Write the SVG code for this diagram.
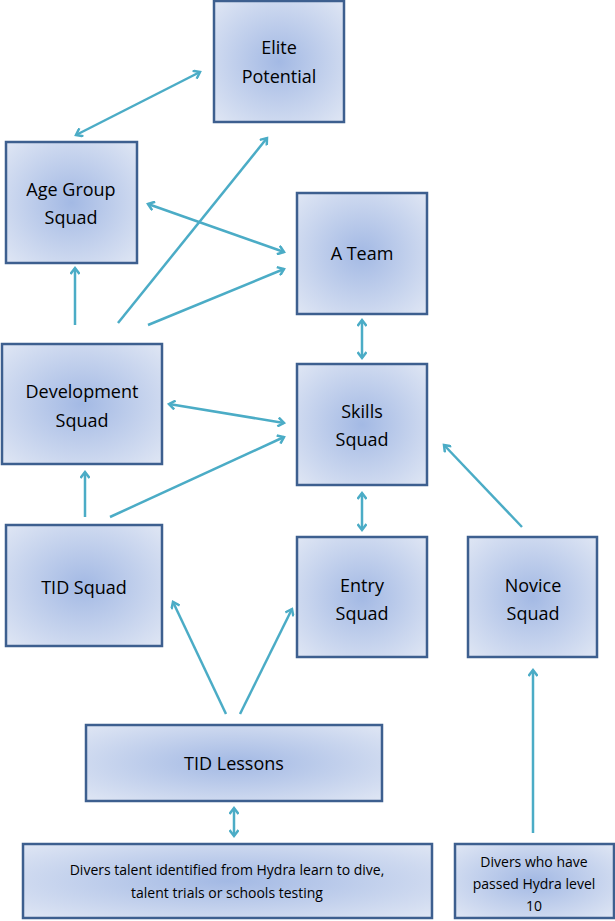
<svg xmlns="http://www.w3.org/2000/svg" width="615" height="921" viewBox="0 0 615 921">
<defs>
<radialGradient id="g" cx="50%" cy="50%" r="70%">
<stop offset="0" stop-color="#a3b9e4"/><stop offset="1" stop-color="#dfe6f4"/>
</radialGradient>
<marker id="a" markerWidth="10" markerHeight="10" refX="7" refY="5" orient="auto-start-reverse" markerUnits="userSpaceOnUse">
<polyline points="1,0.5 7,5 1,9.5" fill="none" stroke="#4bacc6" stroke-width="2.5"/>
</marker>
<style>
.b{fill:url(#g);stroke:#3d5f8f;stroke-width:2.5}
text{font-family:"Open Sans","Liberation Sans",sans-serif;font-size:18px;fill:#000;text-anchor:middle}
.s{font-size:14px}
.c line{stroke:#4bacc6;stroke-width:2.5;marker-end:url(#a)}
.c line.d{marker-start:url(#a)}
</style>
</defs>
<g id="elite"><rect class="b" x="214" y="1" width="130" height="121"/><text x="279" y="54">Elite</text><text x="279" y="83">Potential</text></g>
<g id="agegroup"><rect class="b" x="6" y="142" width="131" height="121"/><text x="71" y="196">Age Group</text><text x="71" y="224">Squad</text></g>
<g id="ateam"><rect class="b" x="297" y="193" width="130" height="121"/><text x="362" y="260">A Team</text></g>
<g id="dev"><rect class="b" x="2" y="344" width="160" height="120"/><text x="82" y="398">Development</text><text x="82" y="427">Squad</text></g>
<g id="skills"><rect class="b" x="297" y="364" width="130" height="121"/><text x="362" y="418">Skills</text><text x="362" y="446">Squad</text></g>
<g id="tid"><rect class="b" x="6" y="525" width="156" height="121"/><text x="84" y="594">TID Squad</text></g>
<g id="entry"><rect class="b" x="297" y="537" width="130" height="120"/><text x="362" y="592">Entry</text><text x="362" y="620">Squad</text></g>
<g id="novice"><rect class="b" x="468" y="537" width="129" height="120"/><text x="533" y="592">Novice</text><text x="533" y="620">Squad</text></g>
<g id="lessons"><rect class="b" x="86" y="725" width="296" height="76"/><text x="234" y="770">TID Lessons</text></g>
<g id="divers"><rect class="b" x="23" y="844" width="409" height="74"/><text class="s" x="227" y="875">Divers talent identified from Hydra learn to dive,</text><text class="s" x="227" y="898">talent trials or schools testing</text></g>
<g id="hydra"><rect class="b" x="455" y="844" width="159" height="74"/><text class="s" x="534" y="867">Divers who have</text><text class="s" x="534" y="889">passed Hydra level</text><text class="s" x="534" y="911">10</text></g>
<g class="c" id="connectors">
<line class="d" x1="200" y1="72" x2="76" y2="135"/>
<line x1="118" y1="323" x2="267" y2="138"/>
<line class="d" x1="148" y1="204" x2="284" y2="252"/>
<line x1="148" y1="325" x2="284" y2="269"/>
<line x1="75" y1="325" x2="75" y2="268"/>
<line class="d" x1="362" y1="320" x2="362" y2="358"/>
<line class="d" x1="169" y1="404" x2="284" y2="423"/>
<line x1="85" y1="517" x2="85" y2="472"/>
<line x1="110" y1="517" x2="284" y2="437"/>
<line class="d" x1="362" y1="493" x2="362" y2="530"/>
<line x1="522" y1="527" x2="444" y2="445"/>
<line x1="226" y1="714" x2="173" y2="602"/>
<line x1="240" y1="714" x2="292" y2="609"/>
<line class="d" x1="234" y1="808" x2="234" y2="836"/>
<line x1="533" y1="833" x2="533" y2="670"/>
</g>
</svg>
